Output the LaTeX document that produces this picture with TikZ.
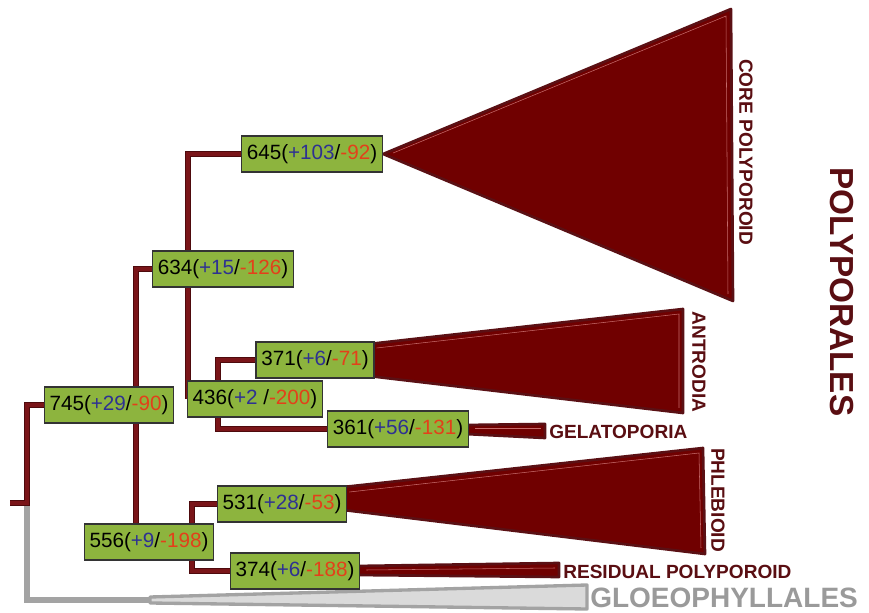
\documentclass[tikz,border=0pt]{standalone}
\usepackage{fontspec}
\setmainfont{Liberation Sans}
\usetikzlibrary{backgrounds,calc}
\definecolor{boxgreen}{HTML}{8DB43E}
\definecolor{pblue}{HTML}{2E3192}
\definecolor{pred}{HTML}{E3401A}
\definecolor{brdark}{HTML}{4E0A0D}
\definecolor{brin}{HTML}{7A1519}
\definecolor{trifill}{HTML}{700000}
\definecolor{triline}{HTML}{5A1014}
\definecolor{labred}{HTML}{5A0E12}
\definecolor{glinec}{HTML}{A3A3A3}
\definecolor{gfill}{HTML}{DADADA}
\definecolor{glabel}{HTML}{9A9A9A}
\newcommand\gl[3]{#1(\textcolor{pblue}{+#2}/\textcolor{pred}{-#3})}
\begin{document}
\begin{tikzpicture}[x=0.75pt,y=-0.75pt,
  nbox/.style={draw=black!80, line width=0.9pt, fill=boxgreen, minimum height=27pt,
    inner xsep=4pt, inner ysep=0pt, font=\fontsize{15.5}{15.5}\selectfont},
  branch/.style={draw=brdark, line width=0.9pt, double=brin, double distance=3.2pt, line join=miter},
  gbranch/.style={draw=glinec, line width=4.2pt},
  clade/.style={fill=trifill, draw=triline, line width=2pt, line join=round},
  hl/.style={draw=red!30!white, line width=0.4pt, opacity=0.6},
  lab/.style={text=labred, font=\fontsize{14.3}{14.3}\selectfont\bfseries, inner sep=0pt}]
\useasboundingbox (0,0) rectangle (869,613);
% nodes
\node[nbox] (n645) at (312,154) {\gl{645}{103}{92}};
\node[nbox] (n634) at (223,269) {\gl{634}{15}{126}};
\node[nbox] (n371) at (315,360) {\gl{371}{6}{71}};
\node[nbox] (n436) at (255,399) {436(\textcolor{pblue}{+2} /\textcolor{pred}{-200})};
\node[nbox] (n361) at (398,429) {\gl{361}{56}{131}};
\node[nbox] (n745) at (109,405) {\gl{745}{29}{90}};
\node[nbox] (n531) at (282,504) {\gl{531}{28}{53}};
\node[nbox] (n556) at (149,542) {\gl{556}{9}{198}};
\node[nbox] (n374) at (295,571) {\gl{374}{6}{188}};
% labels
\node[lab, rotate=-90] (lcore) at (746,152) {CORE POLYPOROID};
\node[lab, rotate=-90] (lantr) at (699,362) {ANTRODIA};
\node[lab, rotate=-90] (lphle) at (718,500) {PHLEBIOID};
\node[lab, anchor=west] (lgela) at (549,432) {GELATOPORIA};
\node[lab, anchor=west] (lresi) at (563,572) {RESIDUAL POLYPOROID};
\node[lab, anchor=west, text=glabel, font=\fontsize{21}{21}\selectfont\bfseries] (lgloe) at (590,598) {GLOEOPHYLLALES};
\node[lab, rotate=-90, font=\fontsize{25}{25}\selectfont\bfseries] (lpoly) at (842,292) {POLYPORALES};
% coordinates
\coordinate (root) at (10,503);
\coordinate (rk) at (27,503);
\coordinate (g0) at (150,600);
\coordinate (v745) at (136,542);
\coordinate (v634) at (188,399);
\coordinate (v436) at (218,429);
\coordinate (v556) at (192,571);
\begin{pgfonlayer}{background}
\fill[white] (0,0) rectangle (869,613);
% gray outgroup
\draw[gbranch] (rk) |- (g0);
\draw[fill=gfill, draw=glinec, line width=2.5pt, line join=round]
  (150,597) -- (587,585) -- (587,609) -- (150,603) -- cycle;
% branches
\draw[branch] (root) -- (rk) |- (n745.west);
\draw[branch] (n634.west) -| (v745) -- (n556);
\draw[branch] (n645.west) -| (v634) -- (n436.west);
\draw[branch] (n371.west) -| (v436) -- (n361.west);
\draw[branch] (n531.west) -| (v556) -- (n374.west);
% clades
\draw[clade] (n645.east) -- (731,9) -- (733,301) -- cycle;
\draw[hl] ($(n645.east)+(10,-1)$) -- (726,16) -- (728,294);
\draw[clade] ($(n371.east)+(-6,-16)$) -- (683,309) -- (683,413) -- ($(n371.east)+(-6,16)$) -- cycle;
\draw[hl] ($(n371.east)+(2,-12)$) -- (679,314) -- (679,408);
\draw[clade] ($(n361.east)+(-4,-4)$) -- (545,424) -- (545,438) -- ($(n361.east)+(-4,5)$) -- cycle;
\draw[hl] ($(n361.east)+(6,-1)$) -- (541,428);
\draw[clade] ($(n531.east)+(-4,-17)$) -- (703,448) -- (705,554) -- ($(n531.east)+(-4,6)$) -- cycle;
\draw[hl] ($(n531.east)+(2,-12)$) -- (699,453) -- (701,548);
\draw[clade] ($(n374.east)+(-4,-5)$) -- (559,563) -- (559,577) -- ($(n374.east)+(-4,4)$) -- cycle;
\draw[hl] ($(n374.east)+(6,-1)$) -- (555,568);
\end{pgfonlayer}
\end{tikzpicture}
\end{document}
